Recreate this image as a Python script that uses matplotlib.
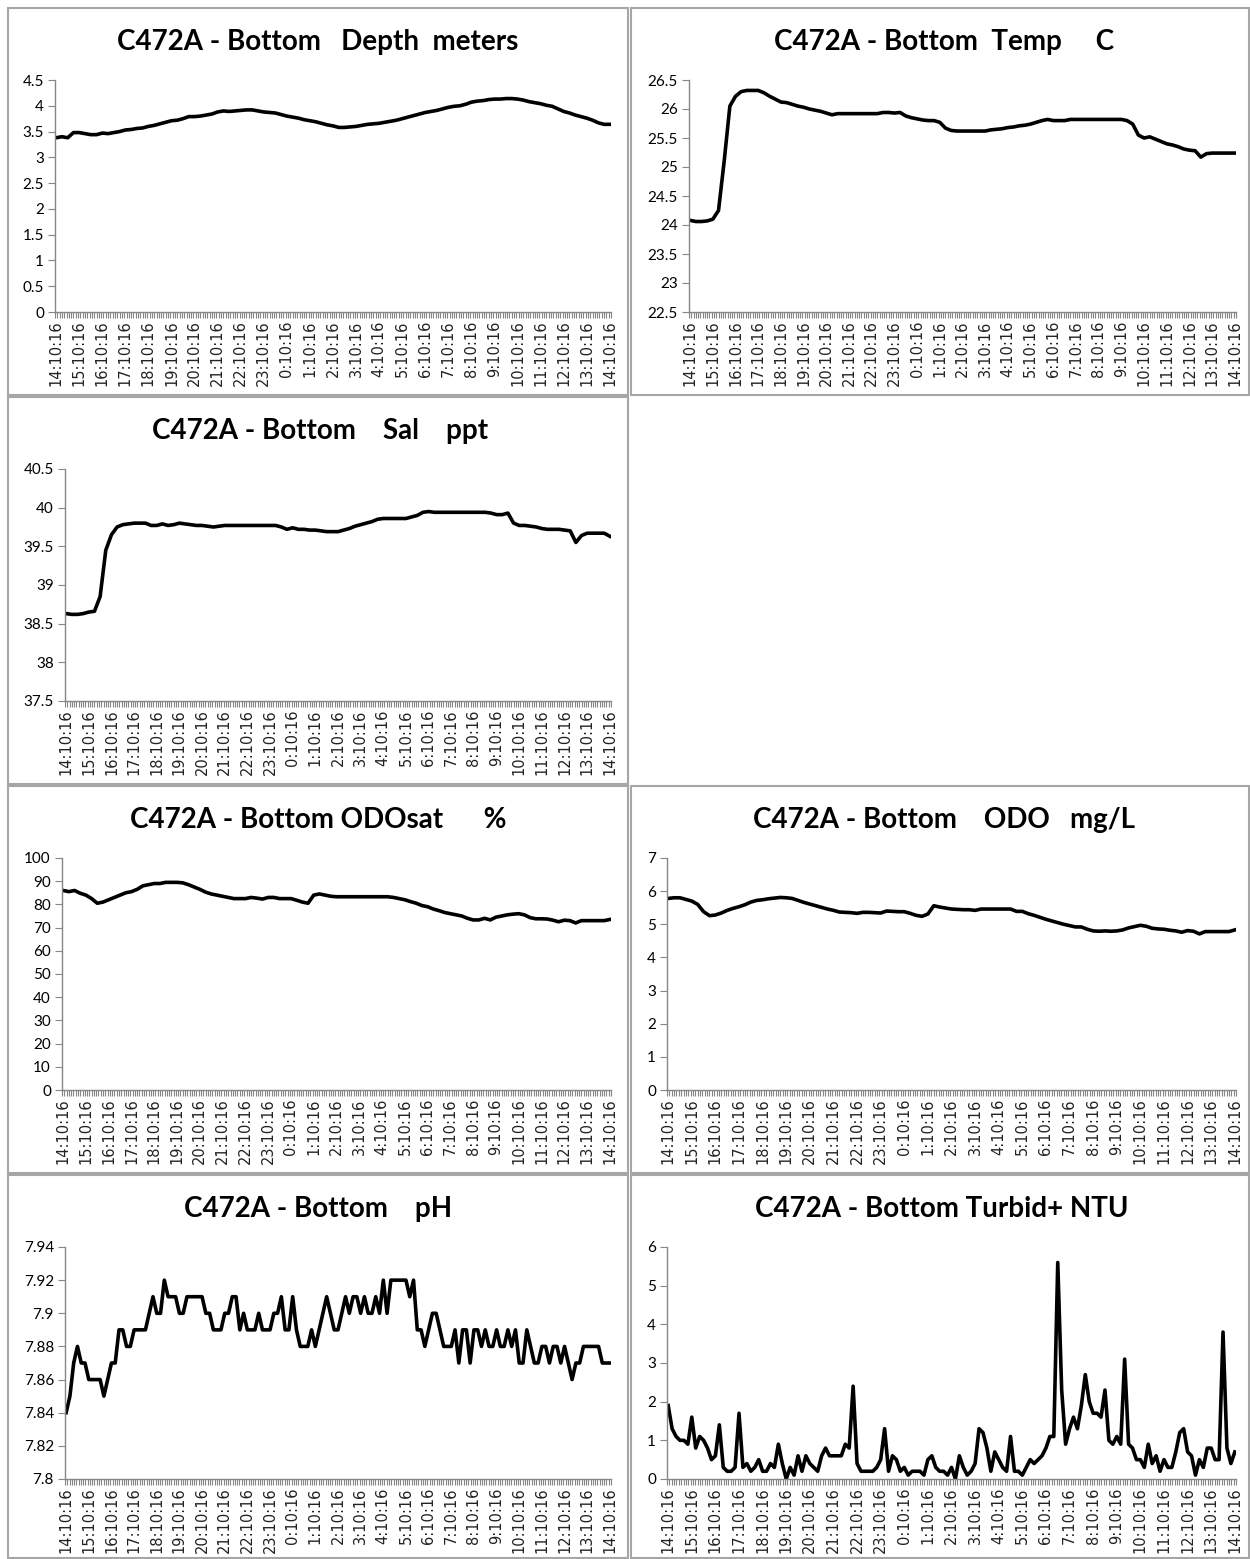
import numpy as np
import matplotlib.pyplot as plt
from matplotlib.patches import Rectangle
from matplotlib.ticker import FixedLocator

W, H = 1250, 1559

# time axis: hours after 14:10:16
hour_labels = [f"{(14 + h) % 24}:10:16" for h in range(25)]
t15 = np.arange(97) * 0.25      # 15 min readings
t10 = np.arange(145) / 6.0      # 10 min readings

depth = [3.38, 3.40, 3.38, 3.48, 3.48, 3.46, 3.44, 3.44, 3.47, 3.46, 3.48, 3.50,
         3.53, 3.54, 3.56, 3.57, 3.60, 3.62, 3.65, 3.68, 3.71, 3.72, 3.75, 3.79,
         3.79, 3.80, 3.82, 3.84, 3.88, 3.90, 3.89, 3.90, 3.91, 3.92, 3.92, 3.90,
         3.88, 3.87, 3.86, 3.83, 3.80, 3.78, 3.76, 3.73, 3.71, 3.69, 3.66, 3.63,
         3.61, 3.58, 3.58, 3.59, 3.60, 3.62, 3.64, 3.65, 3.66, 3.68, 3.70, 3.72,
         3.75, 3.78, 3.81, 3.84, 3.87, 3.89, 3.91, 3.94, 3.97, 3.99, 4.00, 4.03,
         4.07, 4.09, 4.10, 4.12, 4.13, 4.13, 4.14, 4.14, 4.13, 4.11, 4.08, 4.06,
         4.04, 4.01, 3.99, 3.94, 3.89, 3.86, 3.82, 3.79, 3.76, 3.72, 3.67, 3.64,
         3.64]

temp = [24.08, 24.06, 24.06, 24.07, 24.10, 24.25, 25.10, 26.05, 26.22, 26.30, 26.32, 26.32,
        26.32, 26.28, 26.22, 26.17, 26.12, 26.11, 26.08, 26.05, 26.03, 26.00, 25.98, 25.96,
        25.93, 25.90, 25.92, 25.92, 25.92, 25.92, 25.92, 25.92, 25.92, 25.92, 25.94, 25.94,
        25.93, 25.94, 25.88, 25.85, 25.83, 25.81, 25.80, 25.80, 25.77, 25.67, 25.63, 25.62,
        25.62, 25.62, 25.62, 25.62, 25.62, 25.64, 25.65, 25.66, 25.68, 25.69, 25.71, 25.72,
        25.74, 25.77, 25.80, 25.82, 25.80, 25.80, 25.80, 25.82, 25.82, 25.82, 25.82, 25.82,
        25.82, 25.82, 25.82, 25.82, 25.82, 25.80, 25.74, 25.55, 25.50, 25.52, 25.48, 25.44,
        25.40, 25.38, 25.35, 25.31, 25.29, 25.28, 25.17, 25.23, 25.24, 25.24, 25.24, 25.24,
        25.24]

sal = [38.63, 38.62, 38.62, 38.63, 38.65, 38.66, 38.85, 39.45, 39.65, 39.75, 39.78, 39.79,
       39.80, 39.80, 39.80, 39.77, 39.77, 39.79, 39.77, 39.78, 39.80, 39.79, 39.78, 39.77,
       39.77, 39.76, 39.75, 39.76, 39.77, 39.77, 39.77, 39.77, 39.77, 39.77, 39.77, 39.77,
       39.77, 39.77, 39.75, 39.72, 39.74, 39.72, 39.72, 39.71, 39.71, 39.70, 39.69, 39.69,
       39.69, 39.71, 39.73, 39.76, 39.78, 39.80, 39.82, 39.85, 39.86, 39.86, 39.86, 39.86,
       39.86, 39.88, 39.90, 39.94, 39.95, 39.94, 39.94, 39.94, 39.94, 39.94, 39.94, 39.94,
       39.94, 39.94, 39.94, 39.93, 39.91, 39.91, 39.93, 39.80, 39.77, 39.77, 39.76, 39.75,
       39.73, 39.72, 39.72, 39.72, 39.71, 39.70, 39.55, 39.64, 39.67, 39.67, 39.67, 39.67,
       39.63]

odosat = [86, 85.5, 86, 84.8, 84, 82.5, 80.5, 81, 82, 83, 84, 85,
          85.5, 86.5, 88, 88.5, 89, 89, 89.5, 89.5, 89.5, 89.3, 88.5, 87.5,
          86.5, 85.3, 84.5, 84, 83.5, 83, 82.5, 82.5, 82.5, 83, 82.7, 82.3,
          83, 83, 82.5, 82.5, 82.5, 81.8, 81, 80.5, 84, 84.5, 84, 83.5,
          83.3, 83.3, 83.3, 83.3, 83.3, 83.3, 83.3, 83.3, 83.3, 83.3, 83, 82.5,
          82, 81.2, 80.5, 79.5, 79, 78, 77.3, 76.5, 76, 75.5, 75, 74,
          73.3, 73.3, 74, 73.3, 74.5, 75, 75.5, 75.8, 76, 75.5, 74.3, 73.8,
          73.8, 73.7, 73.2, 72.5, 73.2, 73, 72, 73, 73, 73, 73, 73,
          73.5]

odo = [5.78, 5.80, 5.80, 5.75, 5.70, 5.60, 5.38, 5.26, 5.28, 5.34, 5.42, 5.48,
       5.53, 5.59, 5.67, 5.72, 5.74, 5.77, 5.79, 5.81, 5.80, 5.78, 5.72, 5.66,
       5.61, 5.56, 5.51, 5.46, 5.42, 5.37, 5.36, 5.35, 5.33, 5.36, 5.36, 5.35,
       5.34, 5.40, 5.39, 5.38, 5.38, 5.33, 5.27, 5.24, 5.31, 5.56, 5.52, 5.49,
       5.46, 5.45, 5.44, 5.44, 5.42, 5.46, 5.46, 5.46, 5.46, 5.46, 5.46, 5.39,
       5.39, 5.32, 5.27, 5.21, 5.15, 5.10, 5.05, 5.00, 4.96, 4.92, 4.92, 4.85,
       4.80, 4.79, 4.80, 4.79, 4.80, 4.83, 4.89, 4.93, 4.97, 4.94, 4.88, 4.86,
       4.85, 4.82, 4.80, 4.76, 4.81, 4.79, 4.71, 4.78, 4.78, 4.78, 4.78, 4.78,
       4.83]

ph = [7.84, 7.85, 7.87, 7.88, 7.87, 7.87, 7.86, 7.86, 7.86, 7.86,
      7.85, 7.86, 7.87, 7.87, 7.89, 7.89, 7.88, 7.88, 7.89, 7.89,
      7.89, 7.89, 7.90, 7.91, 7.90, 7.90, 7.92, 7.91, 7.91, 7.91,
      7.90, 7.90, 7.91, 7.91, 7.91, 7.91, 7.91, 7.90, 7.90, 7.89,
      7.89, 7.89, 7.90, 7.90, 7.91, 7.91, 7.89, 7.90, 7.89, 7.89,
      7.89, 7.90, 7.89, 7.89, 7.89, 7.90, 7.90, 7.91, 7.89, 7.89,
      7.91, 7.89, 7.88, 7.88, 7.88, 7.89, 7.88, 7.89, 7.90, 7.91,
      7.90, 7.89, 7.89, 7.90, 7.91, 7.90, 7.91, 7.91, 7.90, 7.91,
      7.90, 7.90, 7.91, 7.90, 7.92, 7.90, 7.92, 7.92, 7.92, 7.92,
      7.92, 7.91, 7.92, 7.89, 7.89, 7.88, 7.89, 7.90, 7.90, 7.89,
      7.88, 7.88, 7.88, 7.89, 7.87, 7.89, 7.89, 7.87, 7.89, 7.89,
      7.88, 7.89, 7.88, 7.88, 7.89, 7.88, 7.88, 7.89, 7.88, 7.89,
      7.87, 7.87, 7.89, 7.88, 7.87, 7.87, 7.88, 7.88, 7.87, 7.88,
      7.88, 7.87, 7.88, 7.87, 7.86, 7.87, 7.87, 7.88, 7.88, 7.88,
      7.88, 7.88, 7.87, 7.87, 7.87]

turbid = [1.9, 1.3, 1.1, 1.0, 1.0, 0.9, 1.6, 0.8, 1.1, 1.0,
          0.8, 0.5, 0.6, 1.4, 0.3, 0.2, 0.2, 0.3, 1.7, 0.3,
          0.4, 0.2, 0.3, 0.5, 0.2, 0.2, 0.4, 0.3, 0.9, 0.4,
          0.0, 0.3, 0.1, 0.6, 0.2, 0.6, 0.4, 0.3, 0.2, 0.6,
          0.8, 0.6, 0.6, 0.6, 0.6, 0.9, 0.8, 2.4, 0.4, 0.2,
          0.2, 0.2, 0.2, 0.3, 0.5, 1.3, 0.2, 0.6, 0.5, 0.2,
          0.3, 0.1, 0.2, 0.2, 0.2, 0.1, 0.5, 0.6, 0.3, 0.2,
          0.2, 0.1, 0.3, 0.0, 0.6, 0.3, 0.1, 0.2, 0.4, 1.3,
          1.2, 0.8, 0.2, 0.7, 0.5, 0.3, 0.2, 1.1, 0.2, 0.2,
          0.1, 0.3, 0.5, 0.4, 0.5, 0.6, 0.8, 1.1, 1.1, 5.6,
          2.3, 0.9, 1.3, 1.6, 1.3, 1.9, 2.7, 2.0, 1.7, 1.7,
          1.6, 2.3, 1.0, 0.9, 1.1, 0.9, 3.1, 0.9, 0.8, 0.5,
          0.5, 0.3, 0.9, 0.4, 0.6, 0.2, 0.5, 0.3, 0.3, 0.7,
          1.2, 1.3, 0.7, 0.6, 0.1, 0.5, 0.3, 0.8, 0.8, 0.5,
          0.5, 3.8, 0.8, 0.4, 0.7]

# title, x, y, (ymin, ymax, step), plot area px, chart frame px, title centre x
panels = [
    ("C472A - Bottom   Depth  meters", t15, depth, (0, 4.5, 0.5),
     (55, 80, 611, 312), (8, 8, 628, 395), 318),
    ("C472A - Bottom  Temp     C", t15, temp, (22.5, 26.5, 0.5),
     (689, 80, 1236, 312), (631, 8, 1249, 395), 944),
    ("C472A - Bottom    Sal    ppt", t15, sal, (37.5, 40.5, 0.5),
     (65, 469, 611, 701), (8, 397, 628, 784), 320),
    ("C472A - Bottom ODOsat      %", t15, odosat, (0, 100, 10),
     (62, 858, 611, 1090), (8, 786, 628, 1173), 318),
    ("C472A - Bottom    ODO   mg/L", t15, odo, (0, 7, 1),
     (667, 858, 1236, 1090), (631, 786, 1249, 1173), 944),
    ("C472A - Bottom    pH", t10, ph, (7.8, 7.94, 0.02),
     (65, 1247, 611, 1479), (8, 1175, 628, 1558), 318),
    ("C472A - Bottom Turbid+ NTU", t10, turbid, (0, 6, 1),
     (667, 1247, 1236, 1479), (631, 1175, 1249, 1558), 942),
]

fig = plt.figure(figsize=(W / 100, H / 100), dpi=100)
axis_grey = "#868686"

for title, t, vals, (lo, hi, step), (x0, y0, x1, y1), (fx0, fy0, fx1, fy1), tx in panels:
    # chart area border
    fig.patches.append(Rectangle((fx0 / W, 1 - fy1 / H), (fx1 - fx0) / W, (fy1 - fy0) / H,
                                 transform=fig.transFigure, fill=False,
                                 edgecolor="#a6a6a6", lw=1.5))
    fig.text(tx / W, 1 - (y0 - 38) / H, title, ha="center", va="center",
             fontsize=20, fontweight="bold", family=["Lato", "DejaVu Sans"])

    ax = fig.add_axes([x0 / W, 1 - y1 / H, (x1 - x0) / W, (y1 - y0) / H])
    ax.plot(t, vals, color="black", lw=2.6, solid_joinstyle="round")

    ax.set_xlim(-0.05, 24.05)
    ax.set_ylim(lo, hi)
    yt = np.round(np.arange(lo, hi + step / 2, step), 2)
    ax.set_yticks(yt)
    ax.set_yticklabels([f"{v:g}" for v in yt], family=["Lato", "DejaVu Sans"], fontsize=11)

    ax.xaxis.set_major_locator(FixedLocator(np.arange(25)))
    ax.xaxis.set_minor_locator(FixedLocator(np.arange(-0.05, 24.06, 0.1)))
    ax.set_xticklabels(hour_labels, rotation=90, fontsize=10.5, color="#222222",
                       family="DejaVu Sans", va="top", ha="center")

    for side in ("top", "right"):
        ax.spines[side].set_visible(False)
    for side in ("left", "bottom"):
        ax.spines[side].set_color(axis_grey)
        ax.spines[side].set_linewidth(1)
    ax.tick_params(axis="y", direction="out", length=5, color=axis_grey, pad=3)
    ax.tick_params(axis="x", which="major", length=0, pad=6)
    ax.tick_params(axis="x", which="minor", direction="out", length=4,
                   color=axis_grey, width=0.8)

fig.savefig("out.png", dpi=100, facecolor="white")
